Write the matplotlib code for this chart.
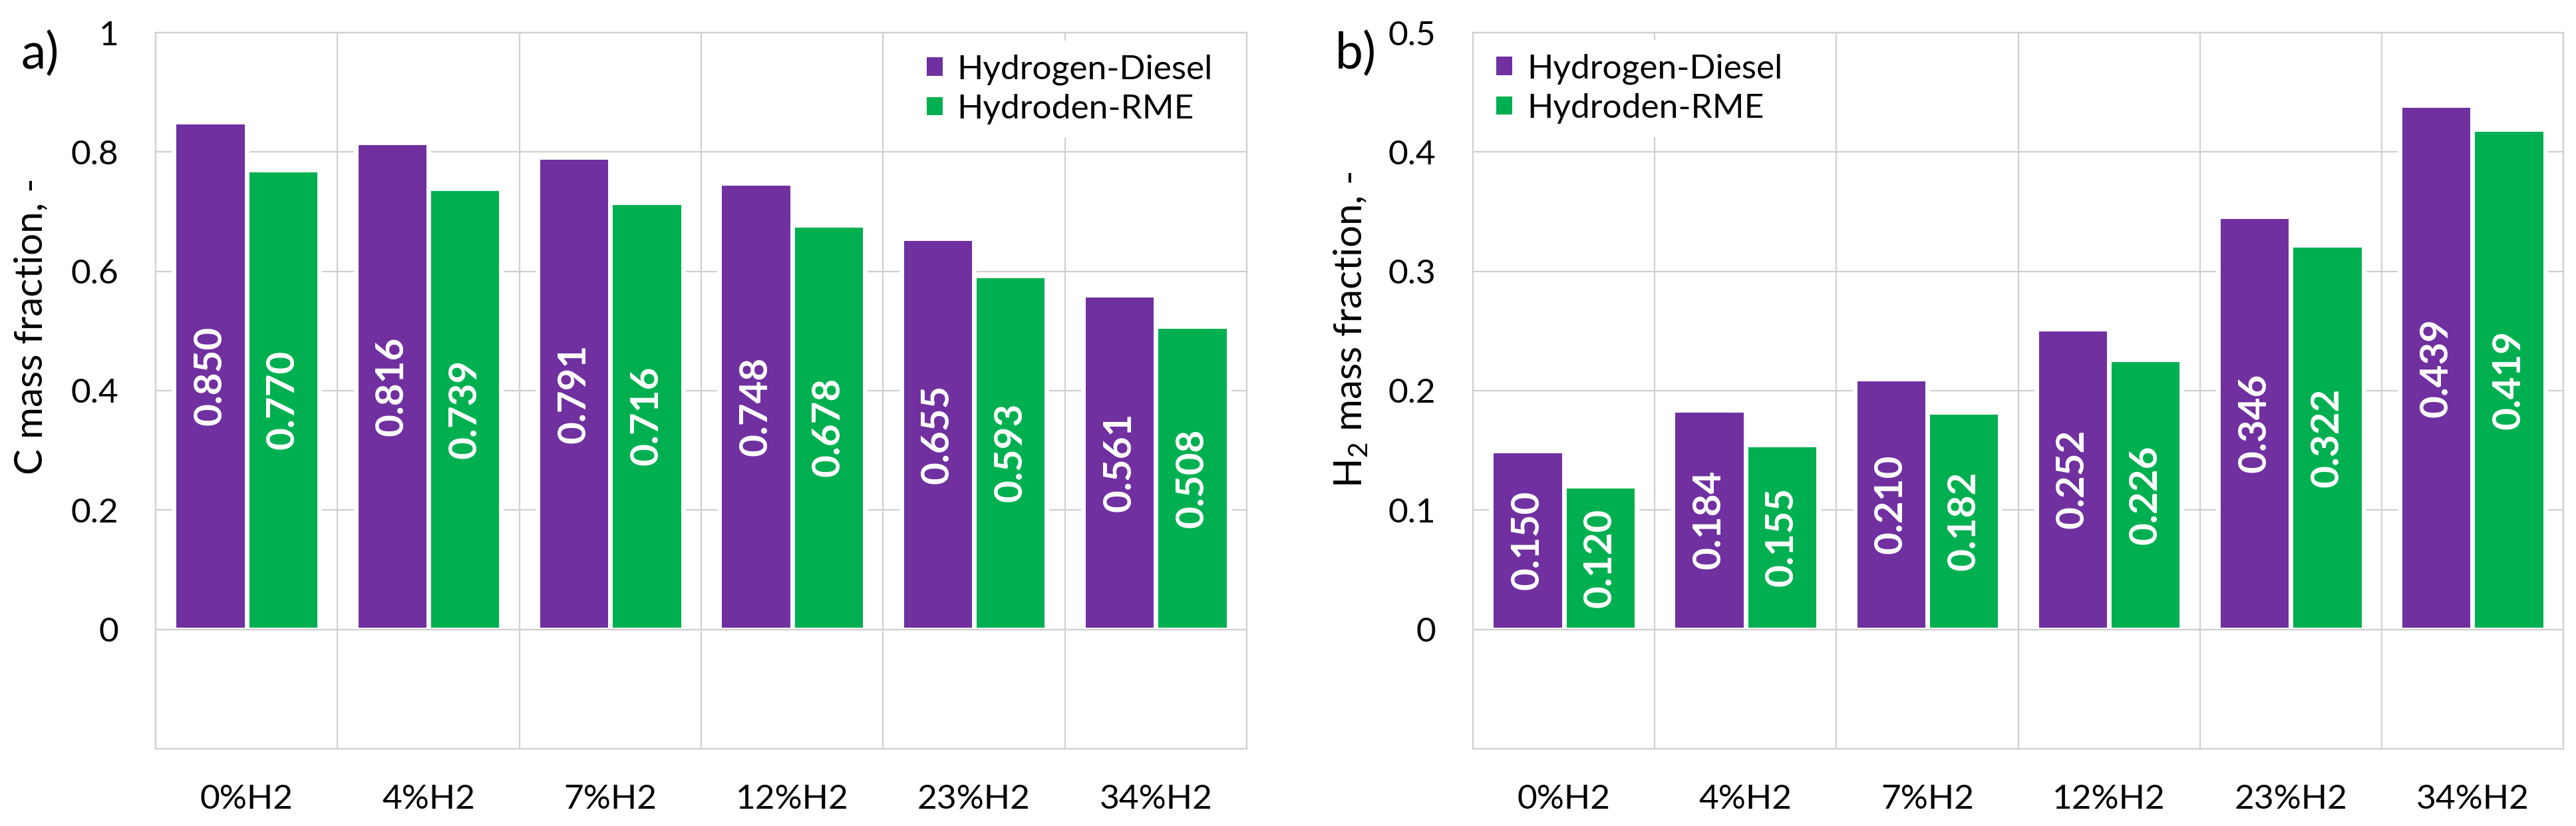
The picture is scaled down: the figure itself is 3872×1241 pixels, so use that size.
import numpy as np
import matplotlib
matplotlib.use("Agg")
import matplotlib.pyplot as plt

plt.rcParams['font.family'] = ['Lato', 'DejaVu Sans']
plt.rcParams['mathtext.fontset'] = 'custom'
plt.rcParams['mathtext.rm'] = 'Lato'
plt.rcParams['mathtext.it'] = 'Lato:italic'
plt.rcParams['mathtext.bf'] = 'Lato:bold'

# ---- data ----
categories = ["0%H2", "4%H2", "7%H2", "12%H2", "23%H2", "34%H2"]
series_names = ["Hydrogen-Diesel", "Hydroden-RME"]
c_diesel = [0.850, 0.816, 0.791, 0.748, 0.655, 0.561]
c_rme = [0.770, 0.739, 0.716, 0.678, 0.593, 0.508]
h2_diesel = [0.150, 0.184, 0.210, 0.252, 0.346, 0.439]
h2_rme = [0.120, 0.155, 0.182, 0.226, 0.322, 0.419]
left_yticks = [0, 0.2, 0.4, 0.6, 0.8, 1.0]
left_yticklabels = ["0", "0.2", "0.4", "0.6", "0.8", "1"]
right_yticks = [0, 0.1, 0.2, 0.3, 0.4, 0.5]
right_yticklabels = ["0", "0.1", "0.2", "0.3", "0.4", "0.5"]

PURPLE = "#7030A0"
GREEN = "#00B050"
GRID = "#D0D0D0"

W, H = 3873, 1241
DPI = 100
fig = plt.figure(figsize=(W / DPI, H / DPI), dpi=DPI)

def px_ax(x0, x1, y0, y1):
    return fig.add_axes([x0 / W, 1 - y1 / H, (x1 - x0) / W, (y1 - y0) / H])

axL = px_ax(234, 1874, 49, 1125)
axR = px_ax(2214, 3853, 49, 1125)

FS = 37
LW = 1.6

def style(ax, d1, d2, ylim, yticks, yticklabels, ylabel, legend_anchor):
    x = np.arange(len(categories))
    bw = 0.4
    b1 = ax.bar(x - bw / 2, d1, bw, color=PURPLE, edgecolor="white", linewidth=5.0,
                label=series_names[0], zorder=2)
    b2 = ax.bar(x + bw / 2, d2, bw, color=GREEN, edgecolor="white", linewidth=5.0,
                label=series_names[1], zorder=2)
    for bars, vals in ((b1, d1), (b2, d2)):
        for rect, v in zip(bars, vals):
            ax.text(rect.get_x() + rect.get_width() / 2, v / 2, f"{v:.3f}",
                    rotation=90, ha="center", va="center", color="white",
                    fontsize=42, fontweight="bold", zorder=4)
    ax.set_xlim(-0.5, len(categories) - 0.5)
    ax.set_ylim(*ylim)
    ax.set_yticks(yticks)
    ax.set_yticklabels(yticklabels)
    ax.set_xticks(x)
    ax.set_xticklabels(categories)
    ax.set_xticks(np.arange(len(categories) + 1) - 0.5, minor=True)
    ax.tick_params(axis="both", which="both", length=0, labelsize=FS)
    ax.tick_params(axis="y", pad=40)
    ax.tick_params(axis="x", pad=38)
    ax.set_axisbelow(True)
    ax.yaxis.grid(True, color=GRID, linewidth=LW, zorder=0.5)
    ax.xaxis.grid(True, which="minor", color=GRID, linewidth=LW, zorder=0.5)
    ax.xaxis.grid(False, which="major")
    ax.axhline(0, color=GRID, linewidth=LW, zorder=3)
    for s in ax.spines.values():
        s.set_color(GRID)
        s.set_linewidth(LW)
    ax.set_ylabel(ylabel, fontsize=42, va="center")
    leg = ax.legend(loc="upper left", bbox_to_anchor=legend_anchor, frameon=True,
                    fontsize=FS, handlelength=0.465, handleheight=0.45,
                    handletextpad=0.43, labelspacing=0.25, borderpad=0.4,
                    borderaxespad=0, fancybox=False)
    leg.get_frame().set_edgecolor("none")
    leg.get_frame().set_facecolor("white")
    leg.get_frame().set_alpha(1)
    leg.set_zorder(5)
    for p in leg.get_patches():
        p.set_linewidth(0)
    return ax

style(axL, c_diesel, c_rme, (-0.2, 1.0), left_yticks, left_yticklabels,
      "C mass fraction, -", (0.694, 0.989))
style(axR, h2_diesel, h2_rme, (-0.1, 0.5), right_yticks, right_yticklabels,
      "H$_2$ mass fraction, -", (0.009, 0.990))

axL.yaxis.set_label_coords((47 - 234) / 1640, (1125 - 490) / 1076)
axR.yaxis.set_label_coords((2030 - 2214) / 1639, (1125 - 495) / 1076)

fig.text(32 / W, 1 - 103 / H, "a)", fontsize=54, ha="left", va="baseline")
fig.text(2007 / W, 1 - 103 / H, "b)", fontsize=54, ha="left", va="baseline")

fig.savefig("out.png", dpi=DPI, facecolor="white")
